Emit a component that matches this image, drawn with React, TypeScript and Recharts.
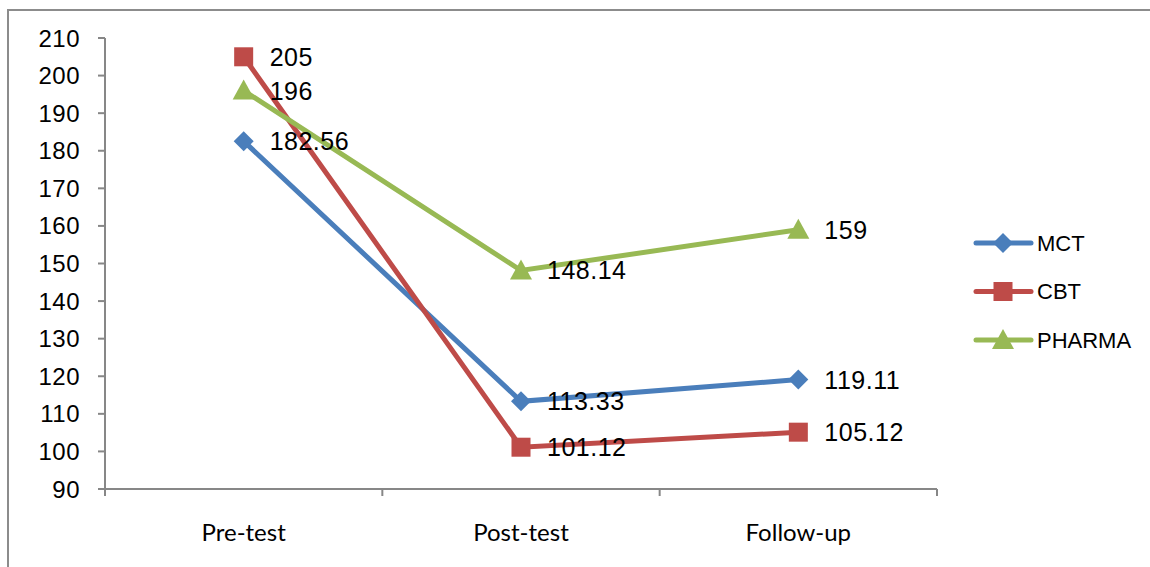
import React from "react";
import { LineChart, Line, XAxis, YAxis, LabelList, Legend } from "recharts";

const categories = ["Pre-test", "Post-test", "Follow-up"];
const mct = [182.56, 113.33, 119.11];
const cbt = [205, 101.12, 105.12];
const pharma = [196, 148.14, 159];
const yTicks = [90, 100, 110, 120, 130, 140, 150, 160, 170, 180, 190, 200, 210];

const data = categories.map((name, i) => ({
    name,
    MCT: mct[i],
    CBT: cbt[i],
    PHARMA: pharma[i],
}));

const W = 1150;
const H = 567;
const PLOT_LEFT = 105;
const PLOT_RIGHT = 937;
const HALF = (PLOT_RIGHT - PLOT_LEFT) / categories.length / 2;
const AXIS = "#878787";
const ARIAL = "'Liberation Sans', Arial, sans-serif";

const series = [
    { key: "MCT", color: "#4A7EBB", shape: "diamond" },
    { key: "CBT", color: "#BE4B48", shape: "square" },
    { key: "PHARMA", color: "#98B954", shape: "triangle" },
];

function Marker({ cx, cy, shape, color }: any) {
    if (cx == null || cy == null) return null;
    if (shape === "diamond") {
        const r = 10;
        return <polygon points={`${cx},${cy - r} ${cx + r},${cy} ${cx},${cy + r} ${cx - r},${cy}`} fill={color} />;
    }
    if (shape === "square") {
        const s = 9.5;
        return <rect x={cx - s} y={cy - s} width={s * 2} height={s * 2} fill={color} />;
    }
    return <polygon points={`${cx},${cy - 11} ${cx + 11},${cy + 9} ${cx - 11},${cy + 9}`} fill={color} />;
}

function XTick({ x, y, payload, index }: any) {
    const last = index === categories.length - 1;
    return (
        <g>
            <line x1={x - HALF} y1={y} x2={x - HALF} y2={y + 7} stroke={AXIS} strokeWidth={2} />
            {last && <line x1={x + HALF} y1={y} x2={x + HALF} y2={y + 7} stroke={AXIS} strokeWidth={2} />}
            <text x={x} y={y + 42} textAnchor="middle" dominantBaseline="central" fontFamily="Lato, 'Noto Sans', sans-serif" fontSize={24} fill="#000">
                {payload.value}
            </text>
        </g>
    );
}

function ValueLabel({ x, y, value }: any) {
    return (
        <text x={x + 26} y={y} dominantBaseline="central" fontFamily={ARIAL} fontSize={25} letterSpacing={0.5} fill="#000">
            {value}
        </text>
    );
}

function LegendBox() {
    return (
        <svg width={180} height={130}>
            {series.map((s, i) => {
                const cy = 18 + i * 48.5;
                return (
                    <g key={s.key}>
                        <line x1={6} y1={cy} x2={61} y2={cy} stroke={s.color} strokeWidth={5} strokeLinecap="round" />
                        <Marker cx={33} cy={cy} shape={s.shape} color={s.color} />
                        <text x={67} y={cy} dominantBaseline="central" fontFamily={ARIAL} fontSize={22} fill="#000">
                            {s.key}
                        </text>
                    </g>
                );
            })}
        </svg>
    );
}

export default function App() {
    return (
        <div style={{ position: "absolute", left: 0, top: 0, width: W, height: H, overflow: "hidden", background: "#fff" }}>
            <div style={{ position: "absolute", left: 7, top: 9, width: 1300, height: 700, borderLeft: "2px solid #8c8c8c", borderTop: "2px solid #8c8c8c" }} />
            <LineChart width={W} height={H} data={data} margin={{ top: 38, right: W - PLOT_RIGHT, bottom: 18, left: 0 }}>
                <XAxis
                    dataKey="name"
                    padding={{ left: HALF, right: HALF }}
                    height={60}
                    tickLine={false}
                    tickSize={0}
                    tickMargin={0}
                    axisLine={{ stroke: AXIS, strokeWidth: 2 }}
                    tick={<XTick />}
                    interval={0}
                />
                <YAxis
                    width={PLOT_LEFT}
                    domain={[90, 210]}
                    ticks={yTicks}
                    interval={0}
                    tickSize={7}
                    tickMargin={18}
                    axisLine={{ stroke: AXIS, strokeWidth: 2 }}
                    tickLine={{ stroke: AXIS, strokeWidth: 2 }}
                    tick={{ fill: "#000", fontSize: 24, fontFamily: ARIAL, letterSpacing: 0.5 }}
                />
                <Legend
                    layout="horizontal"
                    verticalAlign="middle"
                    align="center"
                    content={<LegendBox />}
                    wrapperStyle={{ position: "absolute", left: 970, top: 225, width: 180, height: 130 }}
                />
                {series.map((s) => (
                    <Line
                        key={s.key}
                        type="linear"
                        dataKey={s.key}
                        stroke={s.color}
                        strokeWidth={5}
                        dot={(p: any) => <Marker key={`${s.key}-${p.index}`} cx={p.cx} cy={p.cy} shape={s.shape} color={s.color} />}
                        activeDot={false}
                        isAnimationActive={false}
                    />
                ))}
                {series.map((s) => (
                    <Line
                        key={`${s.key}-labels`}
                        type="linear"
                        dataKey={s.key}
                        stroke="none"
                        dot={false}
                        activeDot={false}
                        legendType="none"
                        isAnimationActive={false}
                    >
                        <LabelList dataKey={s.key} content={<ValueLabel />} />
                    </Line>
                ))}
            </LineChart>
        </div>
    );
}
